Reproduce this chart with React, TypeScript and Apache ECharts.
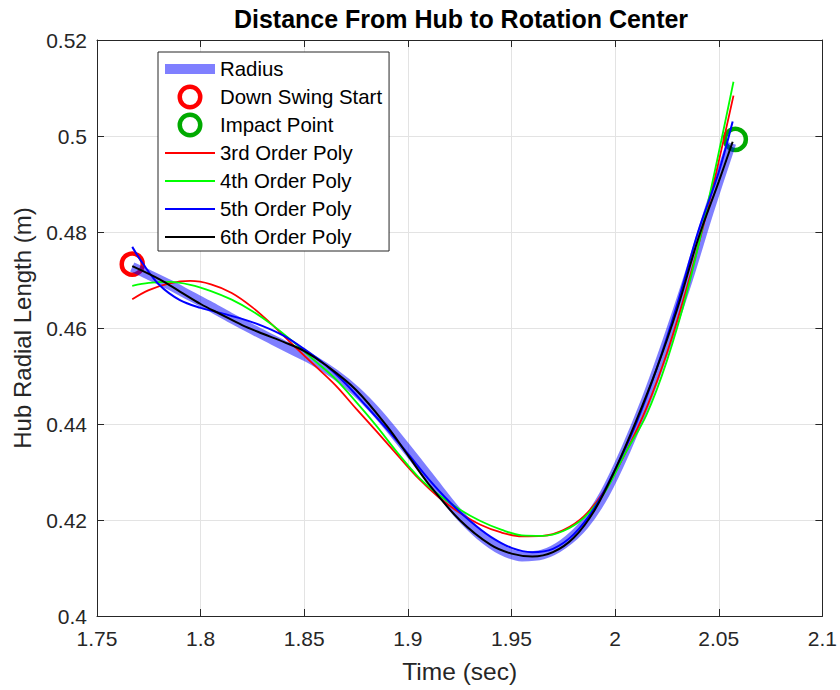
import React, { useEffect, useRef } from "react";
import * as echarts from "echarts";

// ---- Data ----
const radiusT = [1.767, 1.775, 1.785, 1.795, 1.805, 1.815, 1.825, 1.835, 1.845, 1.855, 1.865, 1.875, 1.885, 1.895, 1.905, 1.915, 1.925, 1.935, 1.945, 1.955, 1.965, 1.975, 1.985, 1.995, 2.005, 2.015, 2.025, 2.035, 2.045, 2.056];
const radiusV = [0.4727, 0.4711, 0.469, 0.4667, 0.4644, 0.462, 0.4597, 0.4575, 0.4553, 0.4531, 0.4503, 0.4468, 0.4424, 0.4372, 0.4318, 0.4263, 0.421, 0.4168, 0.4138, 0.4124, 0.4128, 0.415, 0.419, 0.4255, 0.4345, 0.445, 0.457, 0.47, 0.484, 0.4985];

const downSwingStart = [1.767, 0.4733];
const impactPoint = [2.058, 0.4993];

const poly3T = [1.767, 1.775, 1.785, 1.795, 1.805, 1.815, 1.825, 1.835, 1.845, 1.855, 1.865, 1.875, 1.885, 1.895, 1.905, 1.915, 1.925, 1.935, 1.945, 1.955, 1.965, 1.975, 1.985, 1.995, 2.005, 2.015, 2.025, 2.035, 2.045, 2.0571];
const poly3V = [0.466, 0.4679, 0.4693, 0.4698, 0.4691, 0.4673, 0.4643, 0.4605, 0.4563, 0.4522, 0.4481, 0.4432, 0.4384, 0.4335, 0.4287, 0.4247, 0.4215, 0.419, 0.4174, 0.4166, 0.4167, 0.4179, 0.4208, 0.4262, 0.434, 0.4432, 0.4548, 0.469, 0.4855, 0.5084];

const poly4T = [1.767, 1.775, 1.785, 1.795, 1.805, 1.815, 1.825, 1.835, 1.845, 1.855, 1.865, 1.875, 1.885, 1.895, 1.905, 1.915, 1.925, 1.935, 1.945, 1.955, 1.965, 1.975, 1.985, 1.995, 2.005, 2.015, 2.025, 2.035, 2.045, 2.0571];
const poly4V = [0.4688, 0.4694, 0.4696, 0.469, 0.4677, 0.4659, 0.4635, 0.4605, 0.457, 0.4532, 0.4494, 0.4446, 0.4395, 0.434, 0.429, 0.4252, 0.4222, 0.4198, 0.418, 0.4168, 0.4167, 0.4177, 0.4205, 0.4258, 0.434, 0.4418, 0.4532, 0.468, 0.4865, 0.5113];

const poly5T = [1.767, 1.772, 1.78, 1.79, 1.8, 1.81, 1.82, 1.83, 1.84, 1.85, 1.86, 1.87, 1.88, 1.89, 1.9, 1.91, 1.92, 1.93, 1.94, 1.95, 1.96, 1.97, 1.98, 1.99, 2.0, 2.01, 2.02, 2.03, 2.04, 2.05, 2.0567];
const poly5V = [0.4769, 0.4735, 0.469, 0.4658, 0.4642, 0.4631, 0.4619, 0.4604, 0.4584, 0.4556, 0.4524, 0.4484, 0.4437, 0.4389, 0.4338, 0.4285, 0.4238, 0.4198, 0.4165, 0.4142, 0.4133, 0.414, 0.417, 0.4225, 0.4305, 0.44, 0.4515, 0.465, 0.48, 0.4925, 0.503];

const poly6T = [1.767, 1.78, 1.79, 1.8, 1.81, 1.82, 1.83, 1.84, 1.85, 1.86, 1.875, 1.89, 1.9, 1.91, 1.925, 1.94, 1.95, 1.96, 1.97, 1.98, 1.99, 2.0, 2.01, 2.02, 2.03, 2.04, 2.05, 2.0567];
const poly6V = [0.4729, 0.4702, 0.4676, 0.465, 0.4628, 0.4606, 0.4588, 0.4571, 0.4552, 0.4524, 0.4471, 0.4395, 0.4335, 0.4275, 0.42, 0.4148, 0.413, 0.4124, 0.4133, 0.4163, 0.422, 0.4305, 0.4405, 0.4515, 0.464, 0.4785, 0.4905, 0.4988];

const xTickMin = 1.75;
const xTickMax = 2.1;
const xTickStep = 0.05;
const yTickMin = 0.4;
const yTickMax = 0.52;
const yTickStep = 0.02;

const seriesNames = ["Radius", "Down Swing Start", "Impact Point", "3rd Order Poly", "4th Order Poly", "5th Order Poly", "6th Order Poly"];

const zip = (t: number[], v: number[]) => t.map((x, i) => [x, v[i]]);

const FONT = 'Arial, "Liberation Sans", Helvetica, sans-serif';
const AXIS_COLOR = "#262626";
const RADIUS_COLOR = "rgba(0,0,255,0.5)";
const GREEN_MARK = "#00aa00";
// ring icon (outer diameter 25, ring thickness 4.5) for the legend markers
const RING_ICON =
  "path://M12.5,0A12.5,12.5,0,1,1,12.5,25A12.5,12.5,0,1,1,12.5,0ZM12.5,4.5A8,8,0,1,0,12.5,20.5A8,8,0,1,0,12.5,4.5Z";

export default function App() {
  const ref = useRef<HTMLDivElement>(null);
  useEffect(() => {
    document.body.style.margin = "0";
    const chart = echarts.init(ref.current!, null, { renderer: "svg" });
    const fmt = (v: number) => String(parseFloat(v.toFixed(2)));
    const hiddenSym = { color: "rgba(0,0,0,0)", borderWidth: 0, opacity: 0 };
    const lineSeries = (name: string, data: number[][], color: string, width: number) => ({
      name,
      type: "line",
      data,
      smooth: 0.35,
      symbol: "none",
      showSymbol: false,
      lineStyle: { color, width },
      itemStyle: { color },
      clip: true,
    });
    chart.setOption({
      animation: false,
      textStyle: { fontFamily: FONT },
      title: {
        text: "Distance From Hub to Rotation Center",
        left: 461,
        top: 6,
        textAlign: "center",
        padding: 0,
        textStyle: { fontSize: 25, fontWeight: "bold", color: "#000", fontFamily: FONT },
      },
      grid: { left: 97, right: 15, top: 40, bottom: 74, containLabel: false },
      legend: {
        orient: "vertical",
        left: 158,
        top: 52,
        padding: [4.5, 7, 1.5, 2],
        itemGap: 3,
        itemWidth: 50,
        itemHeight: 25,
        backgroundColor: "#ffffff",
        borderColor: AXIS_COLOR,
        borderWidth: 1,
        borderRadius: 0,
        selectedMode: false,
        textStyle: { fontSize: 20.4, lineHeight: 25, height: 25, color: "#000", fontFamily: FONT },
        data: [
          { name: seriesNames[0], itemStyle: hiddenSym, lineStyle: { width: 10, color: RADIUS_COLOR } },
          { name: seriesNames[1], icon: RING_ICON, itemStyle: { color: "#ff0000", borderWidth: 0, opacity: 1 } },
          { name: seriesNames[2], icon: RING_ICON, itemStyle: { color: GREEN_MARK, borderWidth: 0, opacity: 1 } },
          { name: seriesNames[3], itemStyle: hiddenSym, lineStyle: { width: 2, color: "#ff0000" } },
          { name: seriesNames[4], itemStyle: hiddenSym, lineStyle: { width: 2, color: "#00ff00" } },
          { name: seriesNames[5], itemStyle: hiddenSym, lineStyle: { width: 2, color: "#0000ff" } },
          { name: seriesNames[6], itemStyle: hiddenSym, lineStyle: { width: 2, color: "#000000" } },
        ],
      },
      xAxis: [
        {
          type: "value",
          min: xTickMin,
          max: xTickMax,
          interval: xTickStep,
          name: "Time (sec)",
          nameLocation: "middle",
          nameGap: 43,
          nameTextStyle: { fontSize: 24.5, color: AXIS_COLOR, fontFamily: FONT },
          axisLine: { show: true, onZero: false, lineStyle: { color: AXIS_COLOR, width: 1 } },
          axisTick: { show: true, inside: true, length: 7, lineStyle: { color: AXIS_COLOR } },
          axisLabel: { fontSize: 21, color: AXIS_COLOR, margin: 12, formatter: fmt, fontFamily: FONT },
          splitLine: { show: true, lineStyle: { color: "#e3e3e3", width: 1 } },
        },
        {
          type: "value",
          position: "top",
          min: xTickMin,
          max: xTickMax,
          interval: xTickStep,
          axisLine: { show: true, onZero: false, lineStyle: { color: AXIS_COLOR, width: 1 } },
          axisTick: { show: true, inside: true, length: 7, lineStyle: { color: AXIS_COLOR } },
          axisLabel: { show: false },
          splitLine: { show: false },
        },
      ],
      yAxis: [
        {
          type: "value",
          min: yTickMin,
          max: yTickMax,
          interval: yTickStep,
          name: "Hub Radial Length (m)",
          nameLocation: "middle",
          nameGap: 63,
          nameTextStyle: { fontSize: 24, color: AXIS_COLOR, fontFamily: FONT },
          axisLine: { show: true, onZero: false, lineStyle: { color: AXIS_COLOR, width: 1 } },
          axisTick: { show: true, inside: true, length: 7, lineStyle: { color: AXIS_COLOR } },
          axisLabel: { fontSize: 21, color: AXIS_COLOR, margin: 10, formatter: fmt, fontFamily: FONT },
          splitLine: { show: true, lineStyle: { color: "#e3e3e3", width: 1 } },
        },
        {
          type: "value",
          position: "right",
          min: yTickMin,
          max: yTickMax,
          interval: yTickStep,
          axisLine: { show: true, onZero: false, lineStyle: { color: AXIS_COLOR, width: 1 } },
          axisTick: { show: true, inside: true, length: 7, lineStyle: { color: AXIS_COLOR } },
          axisLabel: { show: false },
          splitLine: { show: false },
        },
      ],
      series: [
        {
          name: seriesNames[0],
          type: "line",
          data: zip(radiusT, radiusV),
          smooth: 0.35,
          symbol: "none",
          showSymbol: false,
          lineStyle: { color: RADIUS_COLOR, width: 10, cap: "butt" },
          itemStyle: { color: RADIUS_COLOR },
        },
        {
          name: seriesNames[1],
          type: "scatter",
          data: [downSwingStart],
          symbol: "circle",
          symbolSize: 21,
          itemStyle: { color: "rgba(0,0,0,0)", borderColor: "#ff0000", borderWidth: 4.5, opacity: 1 },
        },
        {
          name: seriesNames[2],
          type: "scatter",
          data: [impactPoint],
          symbol: "circle",
          symbolSize: 21,
          itemStyle: { color: "rgba(0,0,0,0)", borderColor: GREEN_MARK, borderWidth: 4.5, opacity: 1 },
        },
        lineSeries(seriesNames[3], zip(poly3T, poly3V), "#ff0000", 1.8),
        lineSeries(seriesNames[4], zip(poly4T, poly4V), "#00ff00", 1.8),
        lineSeries(seriesNames[5], zip(poly5T, poly5V), "#0000ff", 2),
        lineSeries(seriesNames[6], zip(poly6T, poly6V), "#000000", 2),
      ],
    });
    return () => chart.dispose();
  }, []);
  return <div ref={ref} style={{ width: 840, height: 690 }} />;
}
